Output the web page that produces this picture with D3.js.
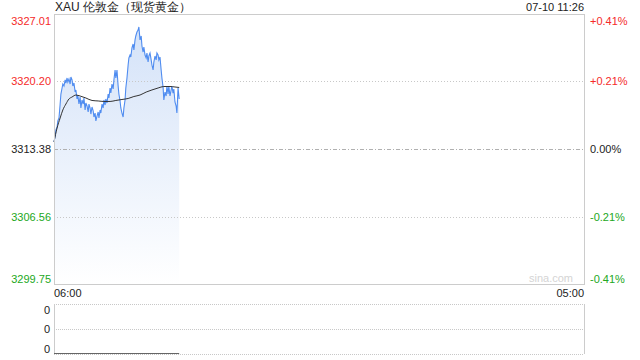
<!DOCTYPE html>
<html>
<head>
<meta charset="utf-8">
<script src="https://cdn.jsdelivr.net/npm/d3@7"></script>
<style>
  body { margin: 0; background: #fff; }
  svg { display: block; font-family: "Liberation Sans", Arial, sans-serif; }
  .axis .domain { display: none; }
</style>
</head>
<body>
<svg id="chart"></svg>
<script>
// minutes since 06:00 open
var minutes = [0,3,5,8,10,13,16,18,21,23,26,29,31,34,36,39,42,44,47,49,52,55,57,60,62,65,68,70,73,76,
  78,81,83,86,89,91,94,96,99,102,104,107,109,112,115,117,120,122,125,128,130,133,135,138,141,143,146,148,151,154,
  156,159,161,164,167,169,172,174,177,180,182,185,187,190,193,195,198,200,203,206,208,211,213,216,219,221,224,227,229,232,
  234,237,240,242,245,247,250,253,255,258,260,263,266,268,271,273,276,279,281,284,286,289,292,294,297,299,302,305,307,310,
  312,315,318,320,323,326];
var prices = [3314.09,3314.69,3315.30,3315.60,3316.21,3316.51,3317.92,3318.93,3319.54,3319.94,3319.74,3320.35,3320.04,3320.55,3320.14,
  3320.45,3319.94,3320.65,3320.35,3319.74,3320.04,3319.13,3319.34,3318.43,3318.83,3317.92,3318.63,3317.52,3318.33,3317.92,
  3318.53,3317.32,3318.02,3317.72,3317.12,3317.92,3317.52,3316.91,3317.62,3317.22,3316.61,3317.01,3316.21,3316.71,3317.12,
  3316.51,3317.32,3317.01,3317.92,3317.52,3318.33,3317.82,3318.43,3318.02,3318.93,3318.53,3319.54,3319.03,3319.94,3319.44,
  3320.35,3321.36,3320.55,3321.36,3319.74,3318.93,3318.23,3317.52,3317.01,3316.61,3317.52,3318.33,3319.54,3320.55,3321.86,
  3322.57,3322.87,3322.67,3323.58,3323.98,3323.38,3324.39,3324.79,3325.19,3325.39,3325.70,3324.39,3324.79,3323.78,3323.17,
  3323.68,3322.87,3322.57,3323.07,3322.16,3322.77,3323.07,3322.37,3321.86,3321.36,3322.16,3322.77,3322.37,3323.07,3322.87,
  3322.37,3322.67,3321.36,3320.55,3319.64,3318.33,3319.13,3318.73,3319.74,3318.93,3319.74,3318.73,3319.34,3319.74,3319.03,
  3319.44,3318.13,3317.72,3317.01,3319.54,3318.43];

// average price line
var avgMinutes = [0,8,16,23,31,39,47,57,68,83,99,115,130,146,161,177,193,208,224,240,255,271,286,302,315,326];
var avgPrices = [3314.09,3315.50,3316.51,3317.32,3317.92,3318.43,3318.63,3318.83,3318.73,3318.53,3318.28,3318.23,3318.18,
  3318.18,3318.28,3318.38,3318.48,3318.68,3318.83,3319.13,3319.34,3319.54,3319.69,3319.69,3319.64,3319.59];

var volMinutes = [0, 326];
var volumes = [0, 0];

var priceTicks = [3327.01, 3320.20, 3313.38, 3306.56, 3299.75];
var pctTicks = ['+0.41%', '+0.21%', '0.00%', '-0.21%', '-0.41%'];
var volTicks = ['0', '0', '0'];
var timeTicks = [0, 1380];
var timeLabels = ['06:00', '05:00'];
var prevClose = 3313.38;

var title = 'XAU 伦敦金（现货黄金）';
var stamp = '07-10 11:26';

document.addEventListener('DOMContentLoaded', () => {
  var W = 640, H = 360;
  var left = 54, right = 584, top = 14, bottom = 284;
  var vTop = 304, vBottom = 354;
  var red = '#f52a2a', green = '#22a822', dark = '#222';

  var svg = d3.select('#chart')
    .attr('width', W)
    .attr('height', H);

  var x = d3.scaleLinear()
    .domain([timeTicks[0], timeTicks[1]])
    .range([left, right]);

  var y = d3.scaleLinear()
    .domain([priceTicks[4], priceTicks[0]])
    .range([bottom, top]);

  var vy = d3.scaleLinear()
    .domain([0, 1])
    .range([vBottom, vTop]);

  var colorOf = (i) => i < 2 ? red : (i === 2 ? dark : green);

  var grad = svg.append('defs').append('linearGradient')
    .attr('id', 'fill')
    .attr('gradientUnits', 'userSpaceOnUse')
    .attr('x1', 0).attr('x2', 0)
    .attr('y1', top).attr('y2', bottom);
  grad.append('stop').attr('offset', 0).attr('stop-color', '#d2e1f8');
  grad.append('stop').attr('offset', 1).attr('stop-color', '#ffffff');

  var data = minutes.map((m, i) => ({ t: m, p: prices[i] }));
  var avg = avgMinutes.map((m, i) => ({ t: m, p: avgPrices[i] }));

  // area first, grid over it
  svg.append('path')
    .datum(data)
    .attr('fill', 'url(#fill)')
    .attr('d', d3.area().x(d => x(d.t)).y0(bottom).y1(d => y(d.p)));

  svg.selectAll('.grid')
    .data(priceTicks.slice(1, 4))
    .enter().append('line')
      .attr('class', 'grid')
      .attr('x1', left).attr('x2', right)
      .attr('y1', d => Math.round(y(d)) + 0.5)
      .attr('y2', d => Math.round(y(d)) + 0.5)
      .attr('stroke', d => d === prevClose ? '#b0b0b0' : '#c8c8c8')
      .attr('stroke-dasharray', d => d === prevClose ? '4,2,1,2' : '1,2');

  svg.append('path')
    .datum(data)
    .attr('fill', 'none')
    .attr('stroke', '#4f8cf0')
    .attr('stroke-width', 1.1)
    .attr('d', d3.line().x(d => x(d.t)).y(d => y(d.p)));

  svg.append('path')
    .datum(avg)
    .attr('fill', 'none')
    .attr('stroke', '#333')
    .attr('stroke-width', 1)
    .attr('d', d3.line().curve(d3.curveMonotoneX).x(d => x(d.t)).y(d => y(d.p)));

  // frame
  svg.append('rect')
    .attr('x', left + 0.5).attr('y', top + 0.5)
    .attr('width', right - left).attr('height', bottom - top)
    .attr('fill', 'none')
    .attr('stroke', '#ccc');

  svg.append('text')
    .attr('x', right - 11).attr('y', bottom - 2)
    .attr('text-anchor', 'end')
    .attr('font-size', 11)
    .attr('fill', '#d4d4d4')
    .text('sina.com');

  // price axis
  var yAxis = d3.axisLeft(y)
    .tickValues(priceTicks)
    .tickSize(0)
    .tickPadding(3)
    .tickFormat(d3.format('.2f'));

  var ga = svg.append('g')
    .attr('class', 'axis')
    .attr('transform', `translate(${ left }, 0)`)
    .call(yAxis);
  ga.selectAll('text')
    .attr('font-size', 11)
    .attr('font-family', null)
    .attr('fill', (d, i) => colorOf(i))
    .attr('dy', (d, i) => i === 0 ? '0.95em' : (i === 4 ? '-0.15em' : '0.32em'));

  var pAxis = d3.axisRight(y)
    .tickValues(priceTicks)
    .tickSize(0)
    .tickPadding(6)
    .tickFormat((d, i) => pctTicks[i]);

  var gp = svg.append('g')
    .attr('class', 'axis')
    .attr('transform', `translate(${ right }, 0)`)
    .call(pAxis);
  gp.selectAll('text')
    .attr('font-size', 11)
    .attr('font-family', null)
    .attr('fill', (d, i) => colorOf(i))
    .attr('dy', (d, i) => i === 0 ? '0.95em' : (i === 4 ? '-0.15em' : '0.32em'));

  // time labels
  svg.selectAll('.tl')
    .data(timeTicks)
    .enter().append('text')
      .attr('class', 'tl')
      .attr('x', d => x(d))
      .attr('y', 297)
      .attr('text-anchor', (d, i) => i === 0 ? 'start' : 'end')
      .attr('font-size', 11)
      .attr('fill', dark)
      .text((d, i) => timeLabels[i]);

  // header
  svg.append('text')
    .attr('x', left + 1).attr('y', 11)
    .attr('font-size', 12)
    .attr('fill', dark)
    .text(title);
  svg.append('text')
    .attr('x', right).attr('y', 11)
    .attr('text-anchor', 'end')
    .attr('font-size', 11)
    .attr('fill', dark)
    .text(stamp);

  // volume panel
  [vTop, (vTop + vBottom) / 2, vBottom].forEach(v => {
    svg.append('line')
      .attr('x1', left).attr('x2', right)
      .attr('y1', v + 0.5).attr('y2', v + 0.5)
      .attr('stroke', '#c8c8c8')
      .attr('stroke-dasharray', '1,1');
  });
  [left, right].forEach(v => {
    svg.append('line')
      .attr('x1', v + 0.5).attr('x2', v + 0.5)
      .attr('y1', vTop).attr('y2', vBottom)
      .attr('stroke', '#ccc');
  });

  svg.append('path')
    .datum(volMinutes.map((m, i) => ({ t: m, v: volumes[i] })))
    .attr('fill', 'none')
    .attr('stroke', '#666')
    .attr('d', d3.line().x(d => x(d.t)).y(d => vy(d.v) - 0.5));

  svg.selectAll('.vl')
    .data(volTicks)
    .enter().append('text')
      .attr('class', 'vl')
      .attr('x', 50)
      .attr('y', (d, i) => [vTop + 10, (vTop + vBottom) / 2 + 4, vBottom - 1][i])
      .attr('text-anchor', 'end')
      .attr('font-size', 11)
      .attr('fill', dark)
      .text(d => d);
});
</script>
</body>
</html>
